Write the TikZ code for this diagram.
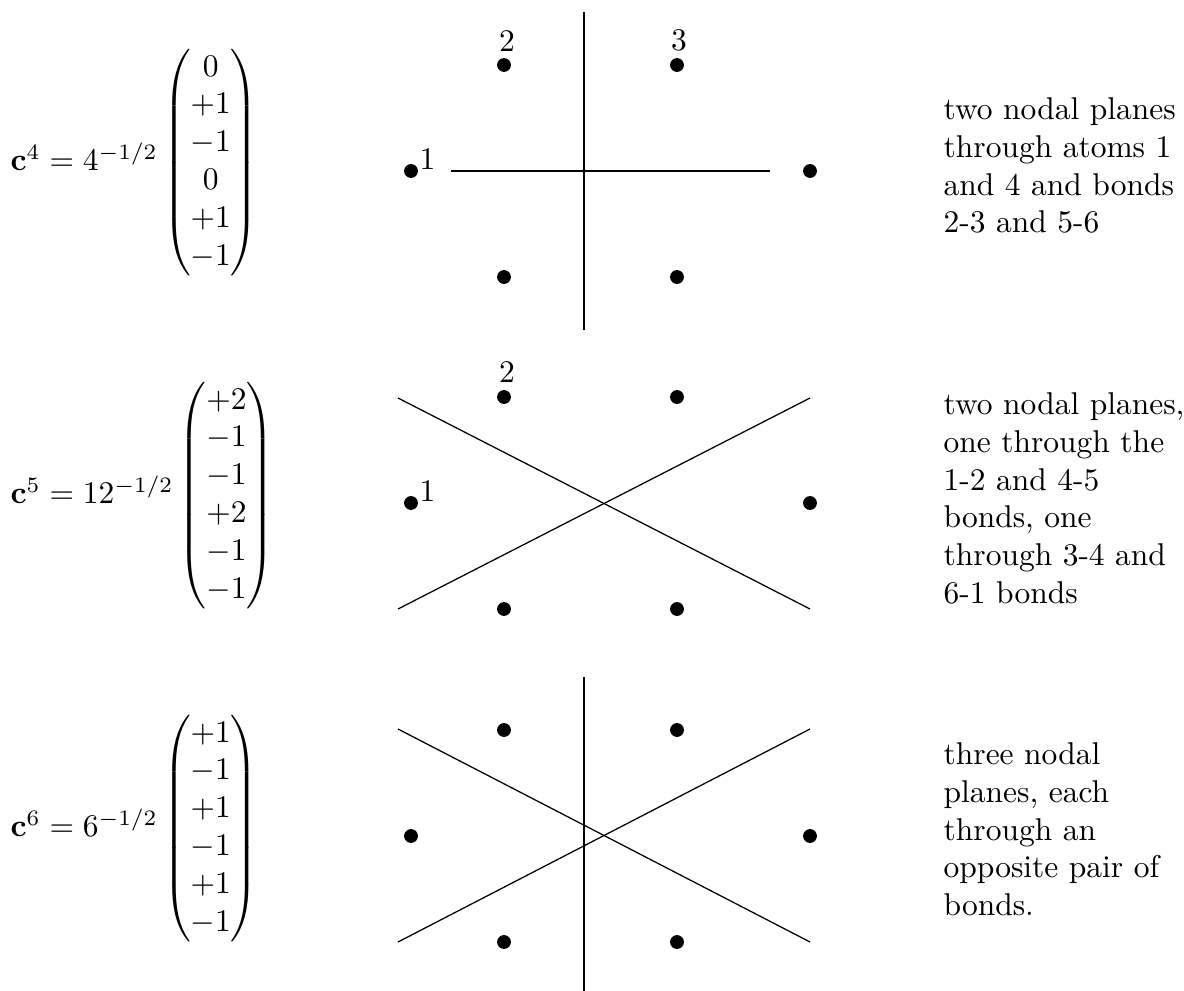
\documentclass[tikz,border=0pt]{standalone}
\usepackage{amsmath}
\begin{document}
\begin{tikzpicture}[x=0.3175pt,y=-0.3175pt,
  atom/.style={circle,fill=black,inner sep=0pt,minimum size=4.4pt},
  lab/.style={inner sep=0pt},
  eqn/.style={inner sep=0pt,anchor=west},
  desc/.style={inner sep=0pt,anchor=north west,align=left},
  plane/.style={line width=0.4pt}]
\useasboundingbox (0,0) rectangle (1184,991);

% ---------- row 1 ----------
\node[eqn] (eq4) at (10,163) {$\mathbf{c}^4 = 4^{-1/2}\begin{pmatrix}0\\+1\\-1\\0\\+1\\-1\end{pmatrix}$};
\node[atom] (a1) at (411,171) {};
\node[atom] (a2) at (504,65) {};
\node[atom] (a3) at (677,65) {};
\node[atom] (a4) at (810,171) {};
\node[atom] (a5) at (677,277) {};
\node[atom] (a6) at (504,277) {};
\node[lab,anchor=south] (l2) at (507,52) {2};
\node[lab,anchor=south] (l3) at (679,52) {3};
\node[lab,anchor=south west] (l1) at (419,170) {1};
\coordinate (h1) at (451,171);
\coordinate (h2) at (770,171);
\coordinate (v1) at (584,12);
\coordinate (v2) at (584,330);
\draw[plane] (h1) -- (h2);
\draw[plane] (v1) -- (v2);
\node[desc] (t4) at (943,97) {two nodal planes\\through atoms 1\\and 4 and bonds\\2-3 and 5-6};

% ---------- row 2 ----------
\node[eqn] (eq5) at (10,496) {$\mathbf{c}^5 = 12^{-1/2}\begin{pmatrix}+2\\-1\\-1\\+2\\-1\\-1\end{pmatrix}$};
\node[atom] (b1) at (411,503) {};
\node[atom] (b2) at (504,397) {};
\node[atom] (b3) at (677,397) {};
\node[atom] (b4) at (810,503) {};
\node[atom] (b5) at (677,609) {};
\node[atom] (b6) at (504,609) {};
\node[lab,anchor=south] (m2) at (507,383) {2};
\node[lab,anchor=south west] (m1) at (419,502) {1};
\coordinate (p1) at (398,398);
\coordinate (p2) at (810,609);
\coordinate (p3) at (398,609);
\coordinate (p4) at (810,398);
\draw[plane] (p1) -- (p2);
\draw[plane] (p3) -- (p4);
\node[desc] (t5) at (943,392) {two nodal planes,\\one through the\\1-2 and 4-5\\bonds, one\\through 3-4 and\\6-1 bonds};

% ---------- row 3 ----------
\node[eqn] (eq6) at (10,829) {$\mathbf{c}^6 = 6^{-1/2}\begin{pmatrix}+1\\-1\\+1\\-1\\+1\\-1\end{pmatrix}$};
\node[atom] (c1) at (411,836) {};
\node[atom] (c2) at (504,730) {};
\node[atom] (c3) at (677,730) {};
\node[atom] (c4) at (810,836) {};
\node[atom] (c5) at (677,942) {};
\node[atom] (c6) at (504,942) {};
\coordinate (q1) at (398,729);
\coordinate (q2) at (810,942);
\coordinate (q3) at (398,942);
\coordinate (q4) at (810,729);
\coordinate (w1) at (584,677);
\coordinate (w2) at (584,991);
\draw[plane] (q1) -- (q2);
\draw[plane] (q3) -- (q4);
\draw[plane] (w1) -- (w2);
\node[desc] (t6) at (943,742) {three nodal\\planes, each\\through an\\opposite pair of\\bonds.};
\end{tikzpicture}
\end{document}
